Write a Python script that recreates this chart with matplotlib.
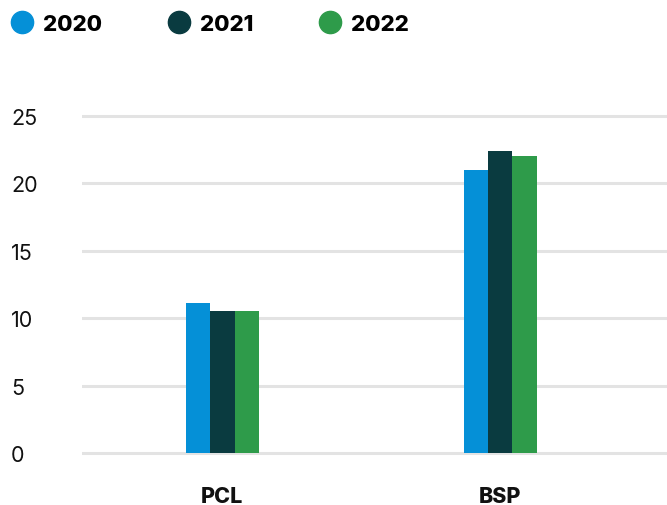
import matplotlib.pyplot as plt
import numpy as np
from matplotlib.lines import Line2D

# data
categories = ['PCL', 'BSP']
years = ['2020', '2021', '2022']
vals_2020 = [11.1, 21.0]
vals_2021 = [10.5, 22.4]
vals_2022 = [10.5, 22.0]
yticks = [0, 5, 10, 15, 20, 25]

colors = ['#0590d7', '#0a3b40', '#2e9b4a']
series = [vals_2020, vals_2021, vals_2022]

plt.rcParams['font.family'] = ['Inter', 'DejaVu Sans']

fig = plt.figure(figsize=(6.67, 5.06), dpi=100)
ax = fig.add_axes([0.123, 0.0949, 0.877, 0.6818])

x = np.arange(len(categories))
w = 0.0875
for i, (vals, c) in enumerate(zip(series, colors)):
    ax.bar(x + (i - 1) * w, vals, width=w, color=c, zorder=3)

for t in yticks:
    ax.axhline(t, color='#e3e3e3', lw=2.2, zorder=1)

ax.set_xlim(-0.505, 1.6)
ax.set_ylim(-0.3, 25.3)
ax.set_yticks(yticks)
ax.set_yticklabels([str(t) for t in yticks], fontsize=15.5, color='#111111')
for lab in ax.get_yticklabels():
    lab.set_horizontalalignment('left')
ax.tick_params(axis='y', length=0, pad=51)
ax.set_xticks(x)
ax.set_xticklabels(categories, fontsize=15.5, fontweight='heavy', color='#111111')
ax.tick_params(axis='x', length=0, pad=21)
for s in ax.spines.values():
    s.set_visible(False)

handles = [Line2D([], [], marker='o', ls='', markersize=16, color=c) for c in colors]
fig.legend(handles, years, loc='upper left', bbox_to_anchor=(0.003, 0.988), ncol=3,
           frameon=False, prop={'weight': 'heavy', 'size': 16}, handletextpad=0.45,
           columnspacing=2.95, borderaxespad=0.0, handlelength=1.0)

plt.savefig('out.png')
